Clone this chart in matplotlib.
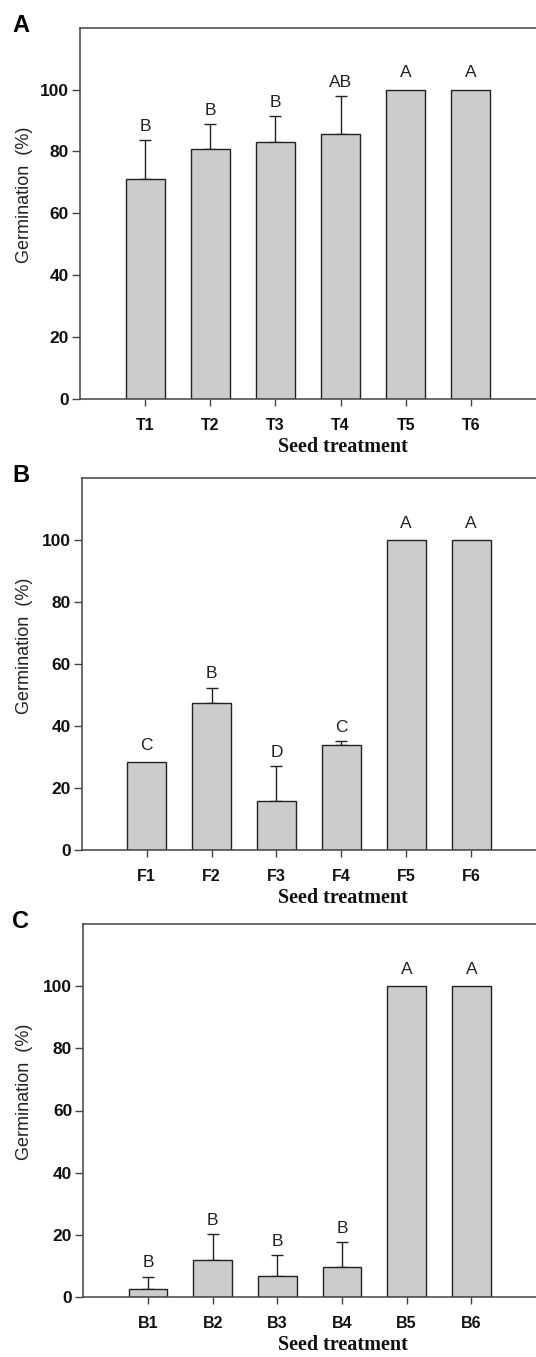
import matplotlib
matplotlib.use("Agg")
import matplotlib.pyplot as plt
import numpy as np

# Data
labels_a = ["T1", "T2", "T3", "T4", "T5", "T6"]
means_a = [71.2, 80.9, 83.1, 85.5, 100, 100]
se_a = [12.4, 8.0, 8.3, 12.3, 0, 0]
letters_a = ["B", "B", "B", "AB", "A", "A"]

labels_b = ["F1", "F2", "F3", "F4", "F5", "F6"]
means_b = [28.3, 47.3, 15.9, 33.9, 100, 100]
se_b = [0, 5.1, 11.3, 1.3, 0, 0]
letters_b = ["C", "B", "D", "C", "A", "A"]

labels_c = ["B1", "B2", "B3", "B4", "B5", "B6"]
means_c = [2.4, 11.8, 6.7, 9.5, 100, 100]
se_c = [4.1, 8.3, 6.7, 8.2, 0, 0]
letters_c = ["B", "B", "B", "B", "A", "A"]

yticks = [0, 20, 40, 60, 80, 100]

W, H = 536, 1357
fig = plt.figure(figsize=(W / 100, H / 100), dpi=100)

panels = [
    ("A", labels_a, means_a, se_a, letters_a, (80, 27.7, 399)),
    ("B", labels_b, means_b, se_b, letters_b, (81.7, 478.3, 850)),
    ("C", labels_c, means_c, se_c, letters_c, (83.3, 924.3, 1296.7)),
]

sans = ["Liberation Sans", "DejaVu Sans"]
serif = ["Liberation Serif", "DejaVu Serif"]
axcol = "#444444"

for tag, labs, means, se, letts, (lx, ty, by) in panels:
    axh = by - ty
    axw = W - lx
    ax = fig.add_axes([lx / W, 1 - by / H, axw / W, axh / H])
    x = np.arange(1, len(labs) + 1)
    ax.bar(x, means, width=0.6, color="#cccccc", edgecolor="#222222", linewidth=1.0, zorder=2)
    se_arr = np.array(se, dtype=float)
    m_arr = np.array(means, dtype=float)
    has = se_arr > 0
    ax.errorbar(x[has], m_arr[has], yerr=[np.zeros(has.sum()), se_arr[has]], fmt="none",
                ecolor="#222222", elinewidth=1.0, capsize=4, capthick=1.0, zorder=1)
    for xi, m, s, lt in zip(x, means, se, letts):
        off = 2.0 if s > 0 else 3.0
        ax.text(xi, m + s + off, lt, ha="center", va="bottom", fontsize=12.5,
                family=sans, color="#222222")
    ax.set_xlim(0, 7)
    ax.set_ylim(0, 120)
    ax.set_xticks(x)
    ax.set_xticklabels(labs, fontsize=11.5, fontweight="bold", family=sans)
    ax.set_yticks(yticks)
    ax.set_yticklabels([str(v) for v in yticks], fontsize=12.5, fontweight="bold", family=sans)
    ax.tick_params(axis="y", direction="out", length=6, width=1.0, color=axcol, pad=2, labelcolor="#111111")
    ax.tick_params(axis="x", direction="out", length=5, width=1.0, color=axcol, pad=9, labelcolor="#111111")
    for sp in ["left", "bottom", "top"]:
        ax.spines[sp].set_color(axcol)
        ax.spines[sp].set_linewidth(1.1)
    ax.spines["right"].set_visible(False)
    ax.set_ylabel("Germination  (%)", fontsize=13, family=sans, color="#222222")
    ax.yaxis.set_label_coords(-(lx - 33) / axw, 0.55)
    ax.set_xlabel("Seed treatment", fontsize=14.5, fontweight="bold", family=serif, color="#111111",
                  va="center")
    ax.xaxis.set_label_coords((343 - lx) / axw, -48 / axh)
    fig.text(12 / W, 1 - (ty + 4) / H, tag, fontsize=17, fontweight="bold", family=sans,
             ha="left", va="baseline")

fig.savefig("out.png", dpi=100)
